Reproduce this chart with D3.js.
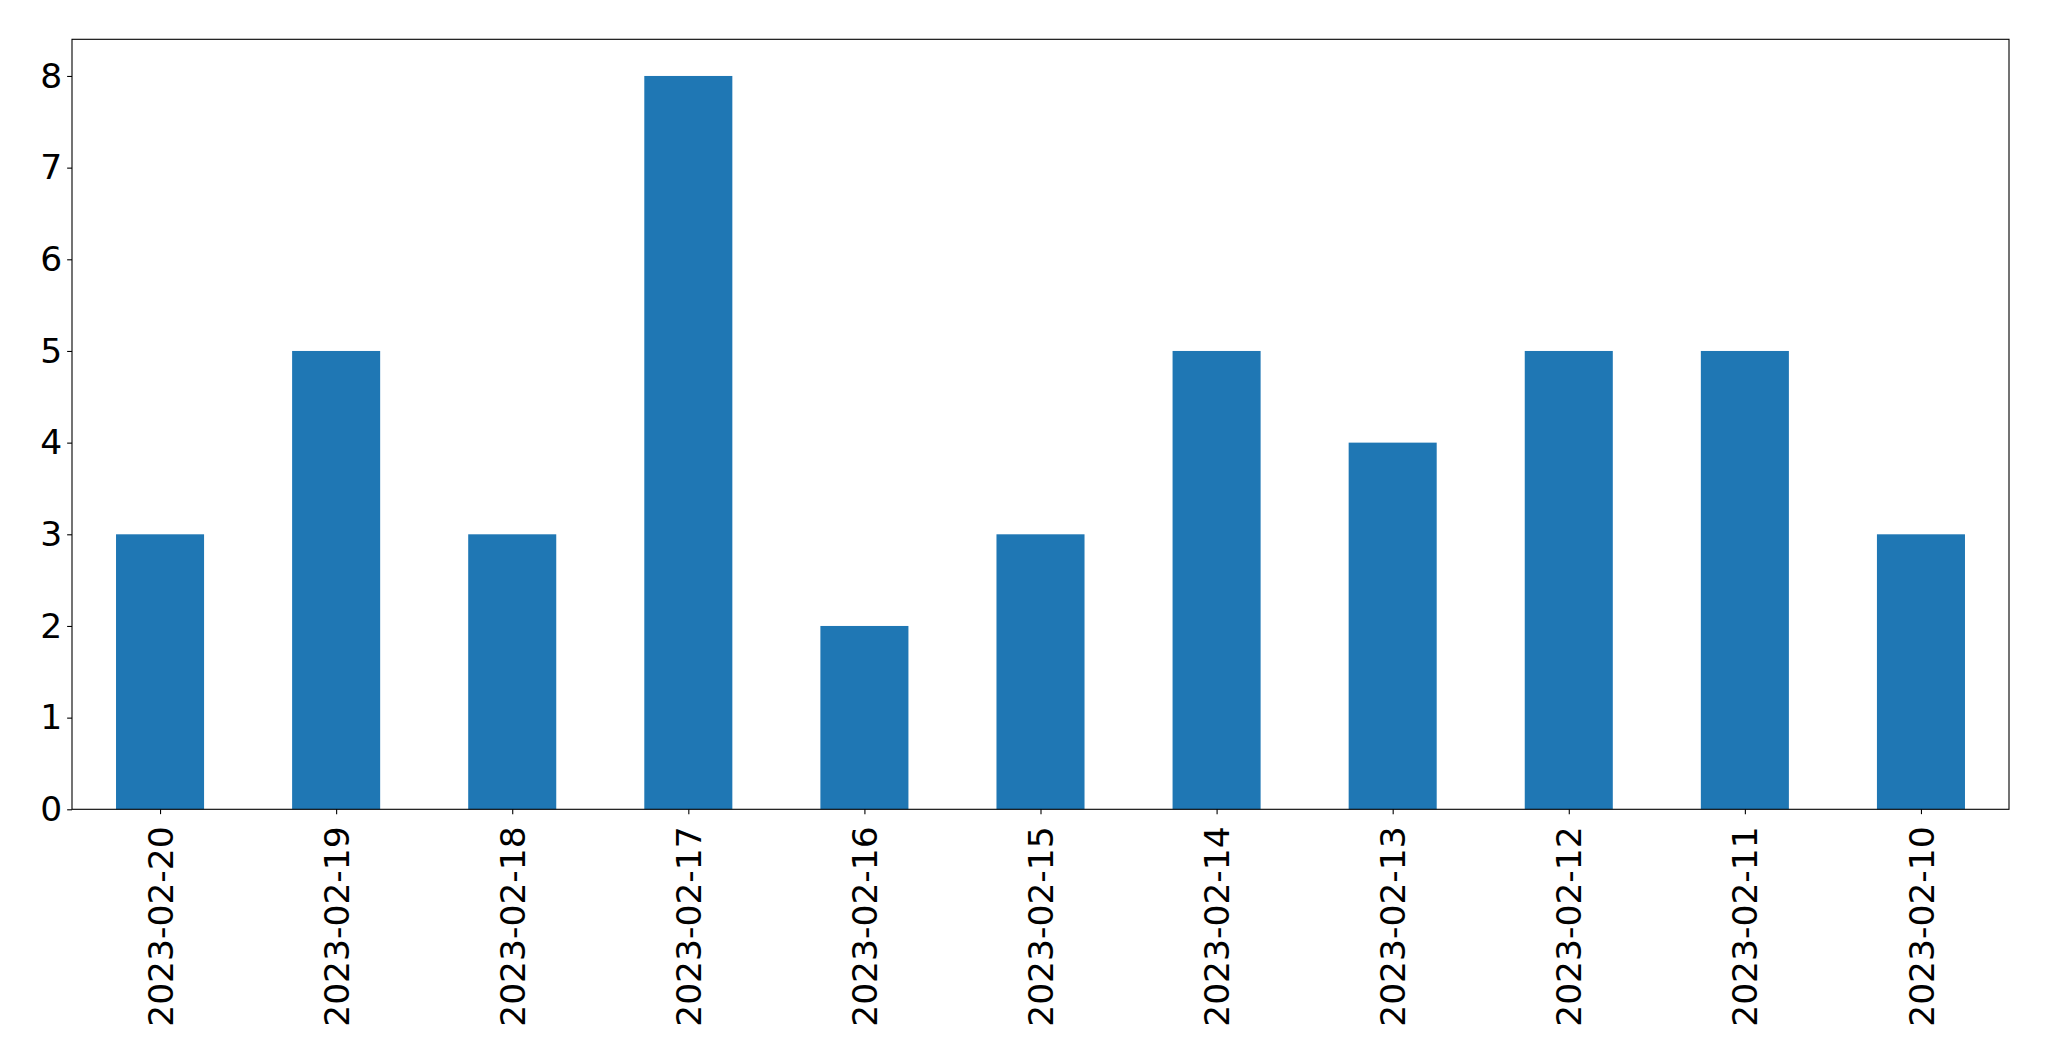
<!DOCTYPE html>
<html>
<head>
<meta charset="utf-8">
<script src="https://cdn.jsdelivr.net/npm/d3@7"></script>
<style>
html, body { margin: 0; padding: 0; background: #fff; }
svg { display: block; }
text { font-family: "DejaVu Sans", sans-serif; }
</style>
</head>
<body>
<svg id="chart" width="2049" height="1061"></svg>
<script>
const categories = ["2023-02-20","2023-02-19","2023-02-18","2023-02-17","2023-02-16","2023-02-15","2023-02-14","2023-02-13","2023-02-12","2023-02-11","2023-02-10"];
const values = [3, 5, 3, 8, 2, 3, 5, 4, 5, 5, 3];
const yTicks = [0, 1, 2, 3, 4, 5, 6, 7, 8];

const W = 2049, H = 1061;
const margin = { left: 72, right: 40, top: 39.3, bottom: 251.7 };
const innerW = W - margin.left - margin.right;
const innerH = H - margin.top - margin.bottom;
const fontSize = 34.5;
const tickLen = 4.86, pad = 4.86;

const svg = d3.select("#chart");
const g = svg.append("g").attr("transform", `translate(${margin.left},${margin.top})`);

const x = d3.scaleLinear().domain([-0.5, categories.length - 0.5]).range([0, innerW]);
const y = d3.scaleLinear().domain([0, 8.4]).range([innerH, 0]);
const barW = 0.5;

g.selectAll("rect.bar").data(values).join("rect")
  .attr("class", "bar")
  .attr("x", (d, i) => x(i - barW / 2))
  .attr("width", (d, i) => x(i + barW / 2) - x(i - barW / 2))
  .attr("y", d => y(d))
  .attr("height", d => y(0) - y(d))
  .attr("fill", "#1f77b4");

// Y axis
const yAxis = d3.axisLeft(y).tickValues(yTicks).tickSize(tickLen).tickPadding(pad).tickFormat(d3.format("d"));
const ya = g.append("g").call(yAxis);
ya.select(".domain").remove();
ya.selectAll("line").attr("stroke", "#000").attr("stroke-width", 1.1);
ya.selectAll("text").attr("font-size", fontSize).attr("fill", "#000").style("font-family", "DejaVu Sans");

// X axis
const xAxis = d3.axisBottom(x).tickValues(d3.range(categories.length)).tickSize(tickLen).tickPadding(pad)
  .tickFormat(i => categories[i]);
const xa = g.append("g").attr("transform", `translate(0,${innerH})`).call(xAxis);
xa.select(".domain").remove();
xa.selectAll("line").attr("stroke", "#000").attr("stroke-width", 1.1);
xa.selectAll("text")
  .attr("font-size", fontSize).attr("fill", "#000").style("font-family", "DejaVu Sans")
  .attr("text-anchor", "end")
  .attr("transform", "rotate(-90)")
  .attr("x", -17)
  .attr("y", 0)
  .attr("dy", "0.35em");

// Frame (spines)
g.append("rect")
  .attr("x", 0).attr("y", 0).attr("width", innerW).attr("height", innerH)
  .attr("fill", "none").attr("stroke", "#000").attr("stroke-width", 1.1);
</script>
</body>
</html>
